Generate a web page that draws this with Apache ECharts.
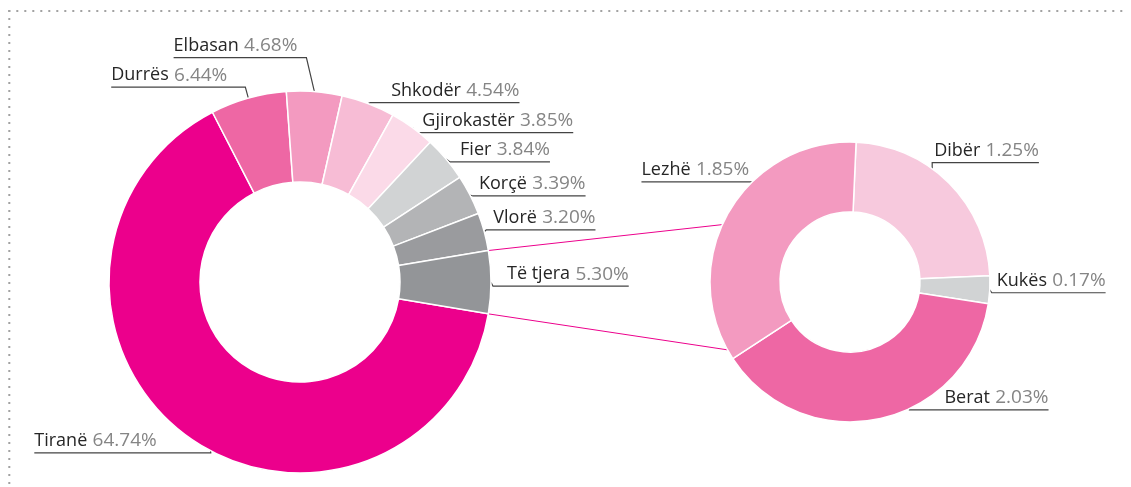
<!DOCTYPE html>
<html><head><meta charset="utf-8">
<script src="https://cdn.jsdelivr.net/npm/echarts@6/dist/echarts.min.js"></script>
<style>html,body{margin:0;padding:0;background:#fff}#c{width:1131px;height:487px}</style>
</head><body><div id="c"></div>
<script>
// ---- data ----
const mainNames = ['Tiranë', 'Durrës', 'Elbasan', 'Shkodër', 'Gjirokastër', 'Fier', 'Korçë', 'Vlorë', 'Të tjera'];
const mainValues = [64.74, 6.44, 4.68, 4.54, 3.85, 3.84, 3.39, 3.20, 5.30];
const otherNames = ['Dibër', 'Kukës', 'Berat', 'Lezhë'];
const otherValues = [1.25, 0.17, 2.03, 1.85];

// ---- styles ----
const mainColors = ['#EC008C', '#EE67A4', '#F39AC0', '#F7BCD5', '#FBDAE8', '#D1D3D4', '#B3B4B6', '#9A9B9E', '#939598'];
const otherColors = ['#F7C9DD', '#D1D3D4', '#EE67A4', '#F39AC0'];
const G = {
  main: { cx: 300, cy: 282, r0: 100, r: 191, start: -9.6 },
  other: { cx: 850, cy: 282, r0: 70, r: 140, start: 87.5 }
};
// label placement: [side, angle offset, elbow dx, elbow dy, gap to text]
const mainLab = [
  ['L', 8.3, 0, 2, 54],
  ['L', 0, -3, -11, 18],
  ['L', 0, -8, -34, 9],
  ['R', 0, 2, -1, 21],
  ['R', 0, 4, 5, 6],
  ['R', 0, 4, 3, 10],
  ['R', 0, 3, 1, 6],
  ['R', 0, 2, -2, 7],
  ['R', 0, 2, 4, 14]
];
const otherLab = [
  ['R', 9, 0, -6, 2],
  ['R', 0, 2, 3, 5],
  ['R', 13, 0, 1, 35],
  ['L', -16, 0, 0, 3]
];
const connectorAngles = [155.8, -151];

function spans(values, start) {
  const total = values.reduce((a, b) => a + b, 0);
  let a = start;
  return values.map(v => { const s = v / total * 360; const r = { from: a, to: a - s, mid: a - s / 2 }; a -= s; return r; });
}
function pt(g, deg, r) {
  const a = deg * Math.PI / 180;
  return [g.cx + r * Math.cos(a), g.cy - r * Math.sin(a)];
}
function makeLayout(g, values, cfgs) {
  const sp = spans(values, g.start);
  return function (params) {
    const i = params.dataIndex, c = cfgs[i];
    const p0 = pt(g, sp[i].mid + c[1], g.r);
    const e = [p0[0] + c[2], p0[1] + c[3]];
    const w = params.labelRect.width;
    if (c[0] === 'R') {
      const x = e[0] + c[4];
      return { x: x, y: e[1] - 2, align: 'left', verticalAlign: 'bottom', labelLinePoints: [p0, e, [x + w, e[1]]] };
    } else {
      const x = e[0] - c[4];
      return { x: x, y: e[1] - 2, align: 'right', verticalAlign: 'bottom', labelLinePoints: [p0, e, [x - w, e[1]]] };
    }
  };
}
const labelStyle = {
  show: true,
  position: 'outside',
  formatter: p => '{n|' + p.name + '} {v|' + p.value.toFixed(2) + '%}',
  rich: {
    n: { color: '#262626', fontSize: 18, fontFamily: 'Open Sans', lineHeight: 20 },
    v: { color: '#858585', fontSize: 19, fontFamily: 'Open Sans', lineHeight: 20, padding: [0, 0, 0, 2] }
  }
};
function pieSeries(g, names, values, colors, cfgs) {
  return {
    type: 'pie',
    center: [g.cx, g.cy],
    radius: [g.r0, g.r],
    startAngle: g.start,
    clockwise: true,
    avoidLabelOverlap: false,
    silent: true,
    animation: false,
    itemStyle: { borderColor: '#fff', borderWidth: 1.5 },
    label: labelStyle,
    labelLine: { show: true, length: 5, length2: 5, lineStyle: { color: '#444', width: 1.2 } },
    labelLayout: makeLayout(g, values, cfgs),
    data: names.map((n, i) => ({ name: n, value: values[i], itemStyle: { color: colors[i] } }))
  };
}

const mainSp = spans(mainValues, G.main.start);
const last = mainSp[mainSp.length - 1];
const a1 = pt(G.main, last.from, G.main.r), a2 = pt(G.main, last.to, G.main.r);
const b1 = pt(G.other, connectorAngles[0], G.other.r), b2 = pt(G.other, connectorAngles[1], G.other.r);

const dotStyle = { stroke: '#a2a2a2', lineWidth: 2, lineDash: [2, 6], lineCap: 'butt' };
const chart = echarts.init(document.getElementById('c'), null, { renderer: 'canvas' });
chart.setOption({
  animation: false,
  graphic: [
    { type: 'line', shape: { x1: 9.3, y1: 10, x2: 9.3, y2: 487 }, style: dotStyle, silent: true },
    { type: 'line', shape: { x1: 8.3, y1: 11, x2: 1128, y2: 11 }, style: dotStyle, silent: true },
    { type: 'line', shape: { x1: a1[0], y1: a1[1], x2: b1[0], y2: b1[1] }, style: { stroke: '#EC008C', lineWidth: 1 }, silent: true },
    { type: 'line', shape: { x1: a2[0], y1: a2[1], x2: b2[0], y2: b2[1] }, style: { stroke: '#EC008C', lineWidth: 1 }, silent: true }
  ],
  series: [
    pieSeries(G.main, mainNames, mainValues, mainColors, mainLab),
    pieSeries(G.other, otherNames, otherValues, otherColors, otherLab)
  ]
});
</script></body></html>
